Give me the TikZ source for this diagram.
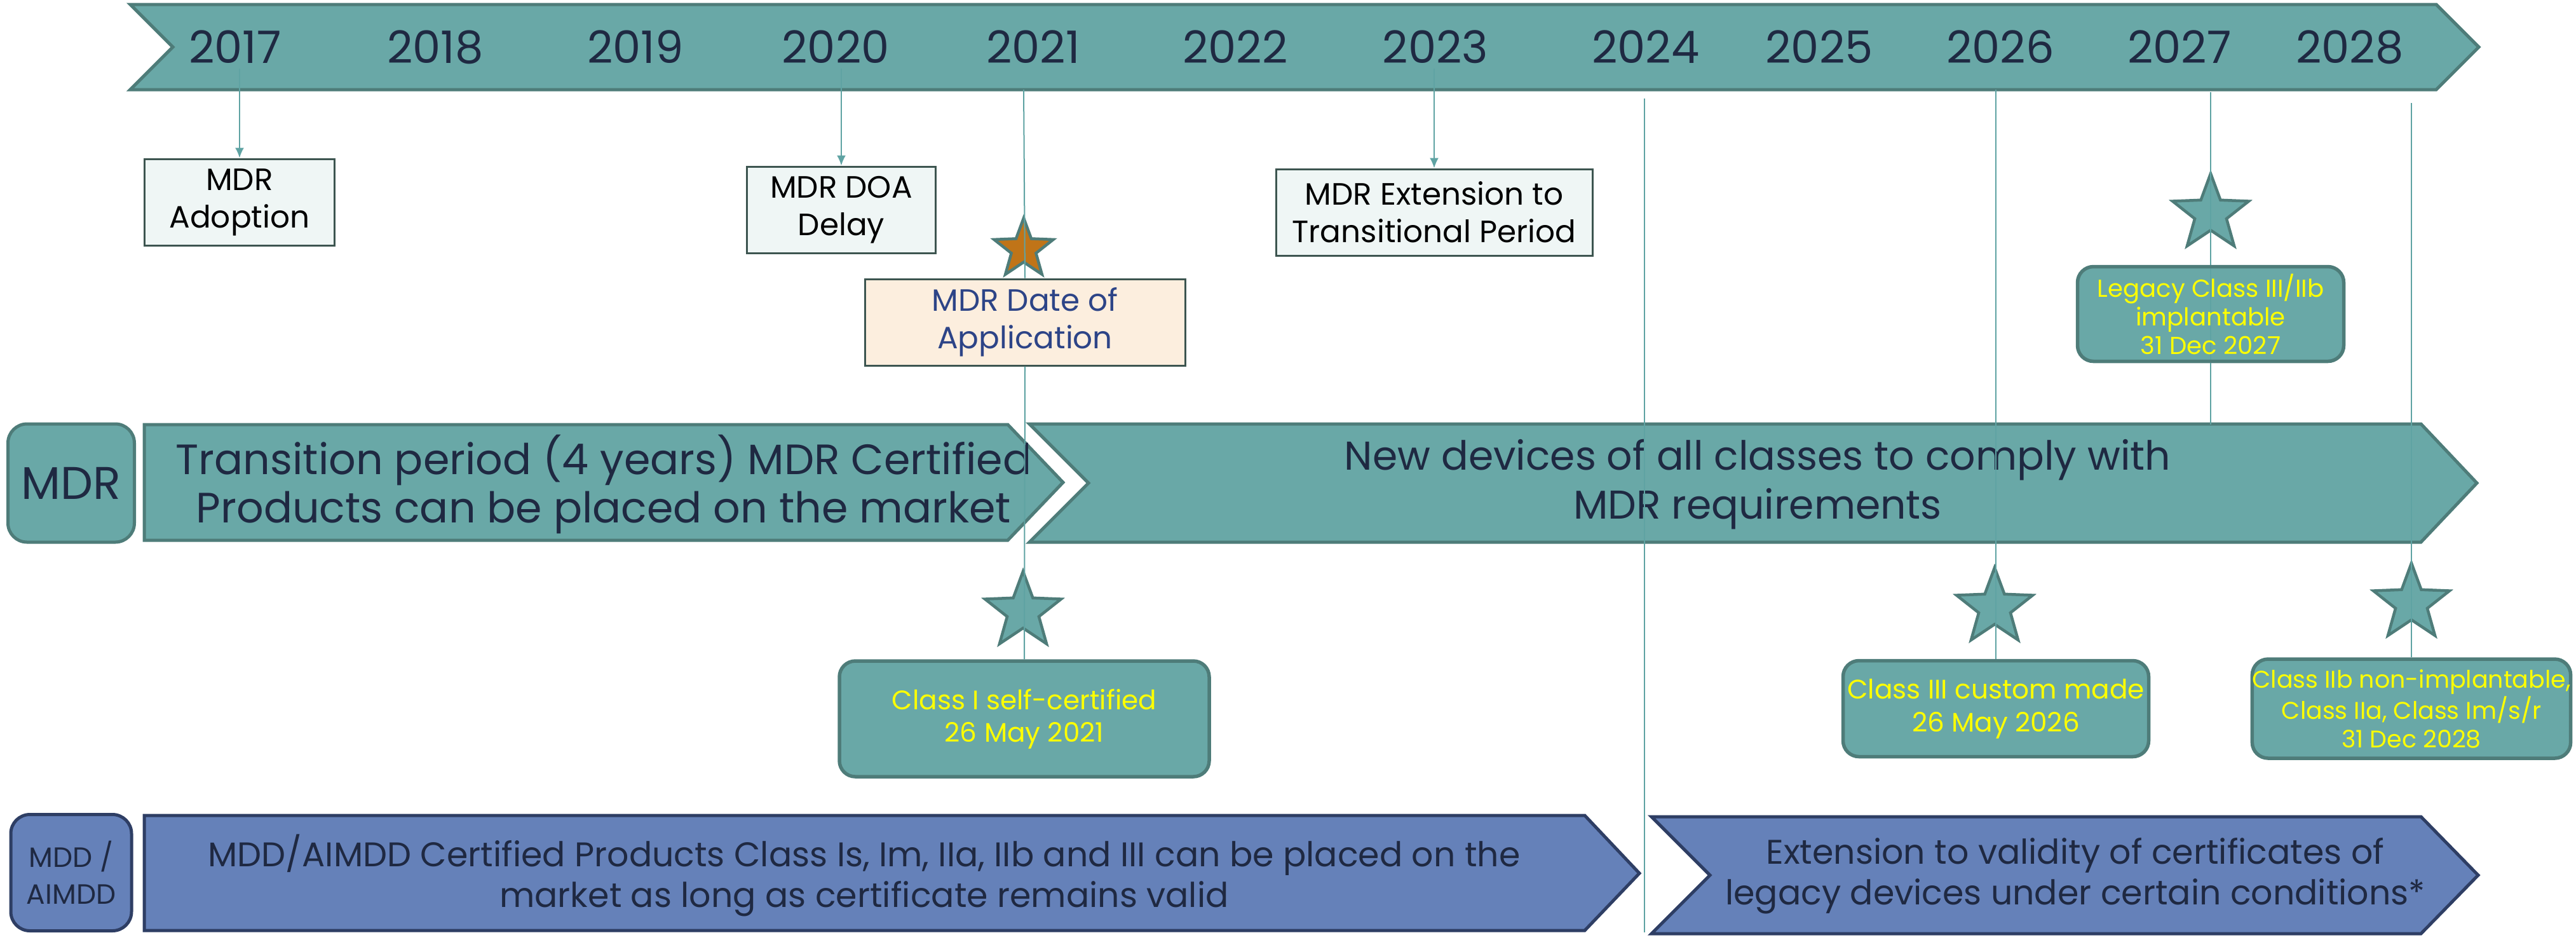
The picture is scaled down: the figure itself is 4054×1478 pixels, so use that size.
\documentclass[tikz,border=0pt]{standalone}
\usepackage{fontspec}
\setmainfont{Poppins}
\usetikzlibrary{shapes.geometric,arrows.meta}
\definecolor{tealfill}{RGB}{105,168,167}
\definecolor{tealdark}{RGB}{78,124,121}
\definecolor{tealline}{RGB}{95,163,163}
\definecolor{navy}{RGB}{31,41,66}
\definecolor{callfill}{RGB}{239,246,245}
\definecolor{callborder}{RGB}{61,85,80}
\definecolor{peach}{RGB}{252,238,222}
\definecolor{doablue}{RGB}{45,68,135}
\definecolor{starorange}{RGB}{192,116,24}
\definecolor{mddfill}{RGB}{101,129,185}
\definecolor{mdddark}{RGB}{46,62,100}
\definecolor{hiyellow}{RGB}{255,255,0}
\tikzset{
  year/.style={text=navy,inner sep=2pt,font=\fontsize{20}{22}\selectfont},
  callout/.style={draw=callborder,line width=.3mm,fill=callfill,align=center,inner sep=0pt,font=\fontsize{13.8}{16.8}\selectfont},
  tealbox/.style={draw=tealdark,line width=.55mm,fill=tealfill,rounded corners=2.5mm,align=center,inner sep=0pt,text=hiyellow},
  mstar/.style={star,star points=5,star point ratio=2.4,draw=tealdark,line width=.45mm,fill=tealfill,inner sep=0pt,minimum size=12.6mm},
  tline/.style={draw=tealline,line width=.2mm},
  callarrow/.style={tline,-{Latex[length=1.6mm,width=1.4mm]}},
  band/.style={fill=tealfill,draw=tealdark,line width=.5mm},
  mddband/.style={fill=mddfill,draw=mdddark,line width=.5mm},
  bandtext/.style={text=navy,align=center,font=\fontsize{18.5}{21.8}\selectfont},
  mddtext/.style={text=navy,align=center,font=\fontsize{15.3}{18.2}\selectfont}
}
\begin{document}
\begin{tikzpicture}[x=.1mm,y=-.1mm]
  \useasboundingbox (0,0) rectangle (4054,1478);

  % time axis and the two rows of bands
  \draw[band] (205,7) -- (3834,7) -- (3901,74) -- (3834,141) -- (205,141) -- (272,74) -- cycle;
  \draw[band] (227,668) -- (1586,668) -- (1673,759) -- (1586,850) -- (227,850) -- cycle;
  \draw[band] (1620,667) -- (3810,667) -- (3898,760) -- (3810,853) -- (1620,853) -- (1713,760) -- cycle;
  \draw[mddband] (227,1283) -- (2494,1283) -- (2580,1374) -- (2494,1464) -- (227,1464) -- cycle;
  \draw[mddband] (2599,1285) -- (3810,1285) -- (3900,1377) -- (3810,1469) -- (2599,1469) -- (2691,1377) -- cycle;

  \foreach \yr/\xx in {2017/370,2018/685,2019/1000,2020/1315,2021/1626,2022/1944,
                       2023/2259,2024/2590,2025/2863,2026/3148,2027/3430,2028/3698}
    \node[year] (y\yr) at (\xx,74) {\yr};

  \node (mdrold) at (950,762) [bandtext,font=\fontsize{19}{21.8}\selectfont] {Transition period (4 years) MDR Certified\\Products can be placed on the market};
  \node (mdrnew) at (2766,762) [bandtext,font=\fontsize{18}{21.8}\selectfont] {New devices of all classes to comply with\\MDR requirements};
  \node (mddold) at (1360,1377) [mddtext] {MDD/AIMDD Certified Products Class Is, Im, IIa, IIb and III can be placed on the\\market as long as certificate remains valid};
  \node (mddext) at (3266,1378) [mddtext] {Extension to validity of certificates of\\legacy devices under certain conditions*};

  \node (mdrlab) at (112,760) [draw=tealdark,line width=.5mm,fill=tealfill,rounded corners=3mm,
     minimum width=19.9mm,minimum height=18.6mm,text=navy,font=\fontsize{20.5}{22}\selectfont] {MDR};
  \node (mddlab) at (112,1373) [draw=mdddark,line width=.5mm,fill=mddfill,rounded corners=3mm,
     minimum width=19mm,minimum height=18.3mm,align=center,text=navy,font=\fontsize{12.5}{16.5}\selectfont] {MDD /\\AIMDD};

  % milestones above the bands
  \node (adopt) at (377,318) [callout,minimum width=29.9mm,minimum height=13.6mm] {MDR\\Adoption};
  \node (doa) at (1324,330) [callout,minimum width=29.7mm,minimum height=13.6mm] {MDR DOA\\Delay};
  \node (ext) at (2257,334) [callout,minimum width=49.8mm,minimum height=13.6mm] {MDR Extension to\\Transitional Period};
  \node (doapp) at (1613,507) [callout,fill=peach,text=doablue,minimum width=50.4mm,minimum height=13.6mm] {MDR Date of\\Application};
  \node (stdoa) at (1611,392) [mstar,fill=starorange,minimum size=9.8mm] {};
  \node (st27) at (3479,336) [mstar] {};
  \node (legacy) at (3479,494) [tealbox,minimum width=41.9mm,minimum height=14.9mm,font=\fontsize{11}{12.8}\selectfont,
     path picture={\draw[tline] (path picture bounding box.north) -- (path picture bounding box.south);}]
     {Legacy Class III/IIb\\implantable\\31 Dec 2027};

  % milestones below the bands
  \node (st21) at (1610,962) [mstar] {};
  \node (st26) at (3139,956) [mstar] {};
  \node (st28) at (3795,949) [mstar] {};
  \node (classI) at (1612,1131) [tealbox,minimum width=58.2mm,minimum height=18.2mm,font=\fontsize{12}{14.4}\selectfont]
     {Class I self-certified\\26 May 2021};
  \node (classIII) at (3141,1115) [tealbox,minimum width=48.1mm,minimum height=15.1mm,font=\fontsize{12}{14.8}\selectfont]
     {Class III custom made\\26 May 2026};
  \node (classIIb) at (3795,1115) [tealbox,minimum width=49.8mm,minimum height=15.6mm,font=\fontsize{10.8}{12.8}\selectfont]
     {Class IIb non-implantable,\\Class IIa, Class Im/s/r\\31 Dec 2028};

  \draw[callarrow] (adopt.north |- y2017.south) -- (adopt.north);
  \draw[callarrow] (doa.north |- y2020.south) -- (doa.north);
  \draw[callarrow] (ext.north |- y2023.south) -- (ext.north);

  \coordinate (top21) at (1611,141);
  \coordinate (top24) at (2588,155);
  \coordinate (bot24) at (2588,1467);
  \coordinate (top26) at (3141,141);
  \coordinate (top27) at (3479,145);
  \coordinate (bot27) at (3479,668);
  \coordinate (top28) at (3795,162);
  \draw[tline] (top21) -- (doapp.north) (doapp.south) -- (classI.north);
  \draw[tline] (top24) -- (bot24);
  \draw[tline] (top26) -- (classIII.north);
  \draw[tline] (top27) -- (legacy.north) (legacy.south) -- (bot27);
  \draw[tline] (top28) -- (classIIb.north);
\end{tikzpicture}
\end{document}
